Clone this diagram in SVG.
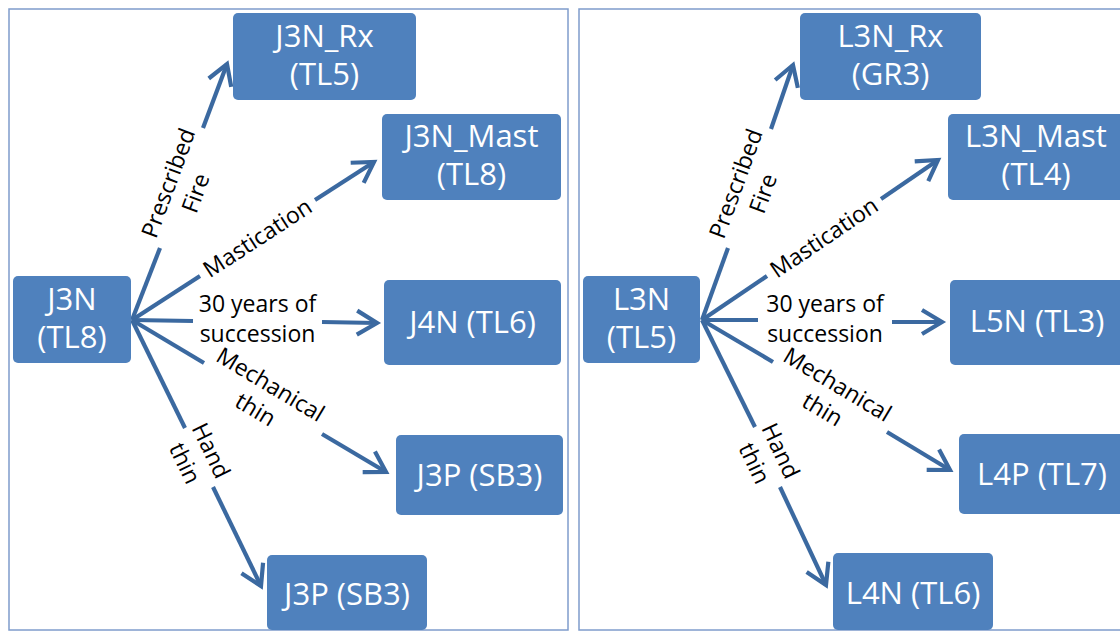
<svg xmlns="http://www.w3.org/2000/svg" width="1120" height="632" viewBox="0 0 1120 632">
<style>
.panel{fill:#ffffff;stroke:#7f9ccc;stroke-width:1.5}
.box{fill:#4f81bd}
.bt{font-family:"Open Sans","Liberation Sans",sans-serif;font-size:31px;fill:#ffffff;text-anchor:middle}
.lbl{font-family:"Open Sans","Liberation Sans",sans-serif;font-size:23px;fill:#000000;text-anchor:middle}
.con{stroke:#3b69a0;stroke-width:4.2;fill:none}
</style>
<defs>
<marker id="arr" markerUnits="userSpaceOnUse" markerWidth="40" markerHeight="40" viewBox="-30 -20 40 40" refX="0" refY="0" orient="auto" overflow="visible">
<path d="M-20,-12 L0,0 L-20,12" fill="none" stroke="#3b69a0" stroke-width="4.2"/>
</marker>
</defs>
<rect width="1120" height="632" fill="#ffffff"/>
<g id="panels">
<rect class="panel" x="9" y="9" width="559" height="621"/>
<rect class="panel" x="579" y="9" width="560" height="621"/>
</g>
<g id="connectors">
<line class="con" x1="132" y1="320" x2="160" y2="248"/>
<line class="con" x1="203" y1="128" x2="227" y2="64" marker-end="url(#arr)"/>
<line class="con" x1="132" y1="320" x2="200" y2="276"/>
<line class="con" x1="315" y1="200" x2="374" y2="162" marker-end="url(#arr)"/>
<line class="con" x1="132" y1="320" x2="193" y2="321"/>
<line class="con" x1="322" y1="322" x2="377" y2="323" marker-end="url(#arr)"/>
<line class="con" x1="132" y1="320" x2="204" y2="363"/>
<line class="con" x1="322" y1="434" x2="386" y2="472" marker-end="url(#arr)"/>
<line class="con" x1="132" y1="320" x2="185" y2="428"/>
<line class="con" x1="213" y1="487" x2="261" y2="586" marker-end="url(#arr)"/>
<line class="con" x1="702" y1="320" x2="728" y2="248"/>
<line class="con" x1="771" y1="129" x2="793" y2="65" marker-end="url(#arr)"/>
<line class="con" x1="702" y1="320" x2="767" y2="276"/>
<line class="con" x1="881" y1="199" x2="938" y2="160" marker-end="url(#arr)"/>
<line class="con" x1="702" y1="320" x2="758" y2="320"/>
<line class="con" x1="892" y1="322" x2="942" y2="322" marker-end="url(#arr)"/>
<line class="con" x1="702" y1="320" x2="773" y2="362"/>
<line class="con" x1="887" y1="432" x2="950" y2="470" marker-end="url(#arr)"/>
<line class="con" x1="702" y1="320" x2="755" y2="427"/>
<line class="con" x1="780" y1="487" x2="826" y2="585" marker-end="url(#arr)"/>
</g>
<g id="labels">
<text class="lbl" transform="translate(182,188) rotate(-69.7)"><tspan x="0" y="-6.5">Prescribed</tspan><tspan x="0" y="22.5">Fire</tspan></text>
<text class="lbl" transform="translate(257.5,238) rotate(-33.1)"><tspan x="0" y="8">Mastication</tspan></text>
<text class="lbl"><tspan x="257.5" y="312">30 years of</tspan><tspan x="257.5" y="342">succession</tspan></text>
<text class="lbl" transform="translate(263,397) rotate(30.9)"><tspan x="0" y="-6.5">Mechanical</tspan><tspan x="0" y="22.5">thin</tspan></text>
<text class="lbl" transform="translate(198,457) rotate(64.2)"><tspan x="0" y="-6.5">Hand</tspan><tspan x="0" y="22.5">thin</tspan></text>
<text class="lbl" transform="translate(749.5,188.5) rotate(-70)"><tspan x="0" y="-6.5">Prescribed</tspan><tspan x="0" y="22.5">Fire</tspan></text>
<text class="lbl" transform="translate(824,237.5) rotate(-34)"><tspan x="0" y="8">Mastication</tspan></text>
<text class="lbl"><tspan x="825" y="312">30 years of</tspan><tspan x="825" y="342">succession</tspan></text>
<text class="lbl" transform="translate(830,397) rotate(31)"><tspan x="0" y="-6.5">Mechanical</tspan><tspan x="0" y="22.5">thin</tspan></text>
<text class="lbl" transform="translate(767.5,457) rotate(64.5)"><tspan x="0" y="-6.5">Hand</tspan><tspan x="0" y="22.5">thin</tspan></text>
</g>
<g id="J3N">
<rect class="box" x="13" y="276" width="118" height="87" rx="5"/>
<text class="bt"><tspan x="72" y="310">J3N</tspan><tspan x="72" y="348">(TL8)</tspan></text>
</g>
<g id="J3N_Rx">
<rect class="box" x="233" y="13" width="183" height="87" rx="5"/>
<text class="bt"><tspan x="324.5" y="47">J3N_Rx</tspan><tspan x="324.5" y="85">(TL5)</tspan></text>
</g>
<g id="J3N_Mast">
<rect class="box" x="382" y="114" width="179" height="86" rx="5"/>
<text class="bt"><tspan x="471.5" y="147">J3N_Mast</tspan><tspan x="471.5" y="185">(TL8)</tspan></text>
</g>
<g id="J4N">
<rect class="box" x="384" y="280" width="177" height="85" rx="5"/>
<text class="bt" x="472.5" y="333">J4N (TL6)</text>
</g>
<g id="J3P_mech">
<rect class="box" x="396" y="435" width="167" height="80" rx="5"/>
<text class="bt" x="479.5" y="486">J3P (SB3)</text>
</g>
<g id="J3P_hand">
<rect class="box" x="267" y="555" width="160" height="75" rx="5"/>
<text class="bt" x="347" y="605">J3P (SB3)</text>
</g>
<g id="L3N">
<rect class="box" x="583" y="276" width="117" height="87" rx="5"/>
<text class="bt"><tspan x="641.5" y="310">L3N</tspan><tspan x="641.5" y="348">(TL5)</tspan></text>
</g>
<g id="L3N_Rx">
<rect class="box" x="800" y="13" width="181" height="87" rx="5"/>
<text class="bt"><tspan x="890.5" y="47">L3N_Rx</tspan><tspan x="890.5" y="85">(GR3)</tspan></text>
</g>
<g id="L3N_Mast">
<rect class="box" x="948" y="114" width="179" height="86" rx="5"/>
<text class="bt"><tspan x="1036" y="147">L3N_Mast</tspan><tspan x="1036" y="185">(TL4)</tspan></text>
</g>
<g id="L5N">
<rect class="box" x="950" y="280" width="177" height="85" rx="5"/>
<text class="bt" x="1037" y="332">L5N (TL3)</text>
</g>
<g id="L4P">
<rect class="box" x="959" y="434" width="167" height="80" rx="5"/>
<text class="bt" x="1042" y="485">L4P (TL7)</text>
</g>
<g id="L4N">
<rect class="box" x="833" y="553" width="160" height="77" rx="5"/>
<text class="bt" x="913" y="604">L4N (TL6)</text>
</g>
</svg>
